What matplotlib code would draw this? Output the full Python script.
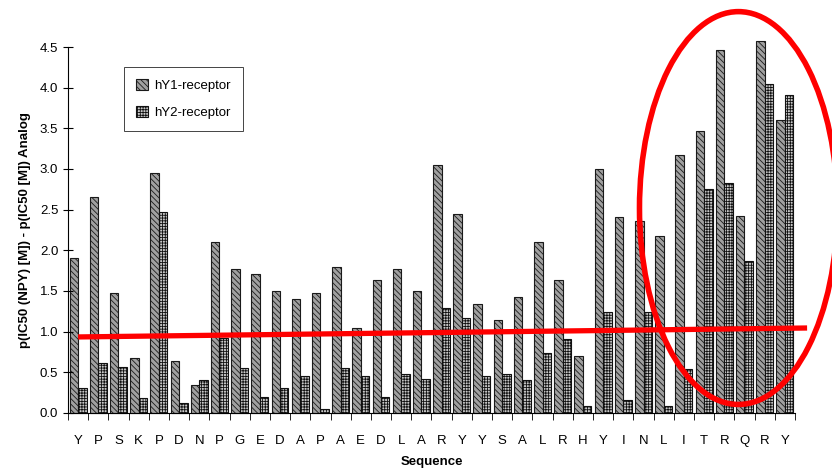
import numpy as np
import matplotlib
matplotlib.use("Agg")
import matplotlib.pyplot as plt
from matplotlib.patches import Ellipse

plt.rcParams["font.family"] = ["Liberation Sans", "DejaVu Sans"]
plt.rcParams["hatch.linewidth"] = 0.6

# NPY sequence, one Ala/D-analog per residue
residues = list("YPSKPDNPGEDAPAEDLARYYSALRHYINLITRQRY")
hy1 = [1.91, 2.66, 1.47, 0.67, 2.95, 0.64, 0.34, 2.10, 1.77, 1.71,
       1.50, 1.40, 1.47, 1.80, 1.05, 1.63, 1.77, 1.50, 3.05, 2.45,
       1.34, 1.14, 1.42, 2.10, 1.63, 0.70, 3.00, 2.41, 2.36, 2.18,
       3.17, 3.47, 4.46, 2.42, 4.57, 3.60]
hy2 = [0.31, 0.62, 0.57, 0.18, 2.47, 0.12, 0.41, 0.92, 0.55, 0.20,
       0.31, 0.45, 0.05, 0.55, 0.45, 0.20, 0.48, 0.42, 1.29, 1.17,
       0.46, 0.48, 0.41, 0.74, 0.91, 0.08, 1.24, 0.16, 1.24, 0.08,
       0.54, 2.75, 2.83, 1.87, 4.05, 3.91]
yticks = [0.0, 0.5, 1.0, 1.5, 2.0, 2.5, 3.0, 3.5, 4.0, 4.5]

# hand-drawn red annotation (data coords)
trend_x = [0.0, 36.1]
trend_y = [0.935, 1.045]
ell_center = (32.7, 2.52)
ell_w, ell_h = 9.8, 4.83

x = np.arange(len(residues))
w = 0.42

fig = plt.figure(figsize=(8.32, 4.70), dpi=100)
ax = fig.add_axes([0.0817, 0.1213, 0.8738, 0.7787])

b1 = ax.bar(x - w / 2, hy1, w, color="#a0a0a0", edgecolor="#1a1a1a", lw=0.8,
            hatch="\\\\\\\\\\\\", label="hY1-receptor")
b2 = ax.bar(x + w / 2, hy2, w, color="#c8c8c8", edgecolor="#111111", lw=0.8,
            hatch="++++++", label="hY2-receptor")
for p in list(b1) + list(b2):
    p.set_clip_on(False)

ax.set_xlim(-0.5, len(residues) - 0.5)
ax.set_ylim(0, 4.5)
ax.set_yticks(yticks)
ax.set_yticklabels([f"{v:.1f}" for v in yticks])
ax.set_xticks(x)
ax.set_xticklabels(residues)
ax.set_xticks(np.arange(-0.5, len(residues)), minor=True)
ax.tick_params(axis="x", which="major", length=0, labelsize=9.5, pad=16)
ax.tick_params(axis="x", which="minor", length=5, width=0.6, direction="out")
ax.tick_params(axis="y", length=7, width=0.8, direction="inout", labelsize=9.5)
for s in ("top", "right"):
    ax.spines[s].set_visible(False)
ax.spines["left"].set_linewidth(0.8)
ax.spines["bottom"].set_linewidth(0.8)

ax.set_ylabel("p(IC50 (NPY) [M]) - p(IC50 [M]) Analog", fontsize=9.5,
              fontweight="bold", labelpad=6)
ax.set_xlabel("Sequence", fontsize=9.5, fontweight="bold", labelpad=6)

leg = ax.legend(loc="upper left", bbox_to_anchor=(0.068, 0.964), fontsize=9.5,
                fancybox=False, edgecolor="#444444", framealpha=1,
                handlelength=0.9, handleheight=0.9, labelspacing=1.1,
                borderpad=0.9, handletextpad=0.5)
leg.get_frame().set_linewidth(0.7)

ax.plot(trend_x, trend_y, color="#ff0000", lw=3.8, clip_on=False,
        solid_capstyle="butt")
ax.add_patch(Ellipse(ell_center, ell_w, ell_h, fill=False, edgecolor="#ff0000",
                     lw=4, clip_on=False))

fig.savefig("out.png", dpi=100)
